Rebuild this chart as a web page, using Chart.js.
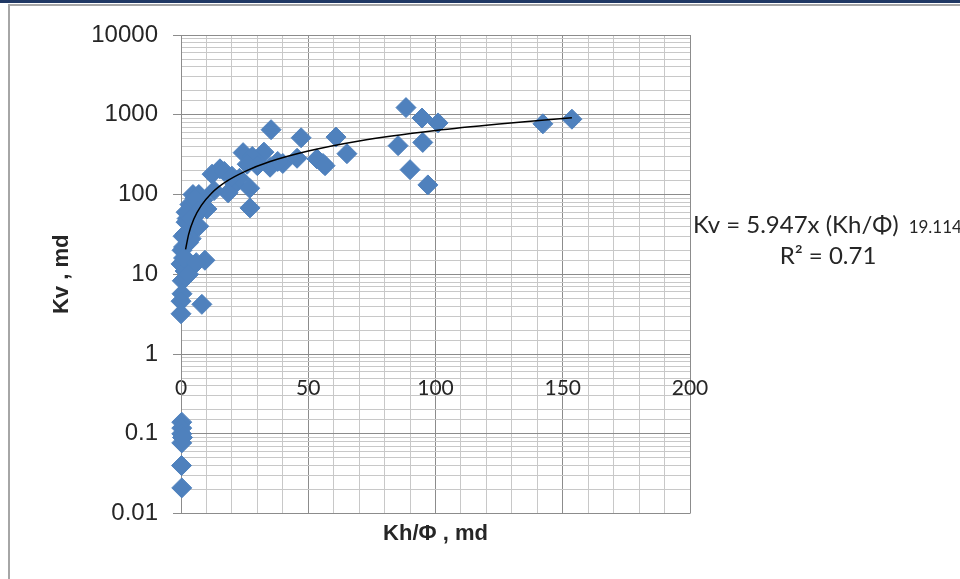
<!DOCTYPE html>
<html>
<head>
<meta charset="utf-8">
<script src="https://cdn.jsdelivr.net/npm/chart.js@4.4.1/dist/chart.umd.min.js"></script>
<style>
  html, body { margin: 0; padding: 0; background: #ffffff; }
  body { width: 960px; height: 579px; position: relative; overflow: hidden; }
  #topbar { position: absolute; left: 0; top: 0; width: 960px; height: 3px; background: #1f3864; }
  #frame { position: absolute; left: 8px; top: 4px; width: 980px; height: 600px;
           border-top: 2px solid #a6a6a6; border-left: 2px solid #a6a6a6; }
  #wrap { position: absolute; left: 0; top: 0; width: 960px; height: 579px; }
</style>
</head>
<body>
<div id="topbar"></div>
<div id="frame"></div>
<div id="wrap"><canvas id="c" width="960" height="579"></canvas></div>
<script>
// Scatter data: Kh/Φ (md) and Kv (md)
const khPhi = [
  153.6, 142.2, 101, 94.7, 88.4, 85.3, 95, 90, 97,
  35.4, 47.2, 60.9, 65.2, 55.8, 53.4, 56.6, 24.4, 32.6, 40, 45.6, 29.5, 35, 28, 38, 30, 26,
  15.3, 12.2, 17, 21.2, 27, 27.1, 18.5, 4.7, 8.6, 3.5, 6.3, 2.4, 10.2, 7, 23, 13, 20, 5.5,
  6.7, 1.6, 5.5, 0.4, 9.4, 0, 1.6, 0.5, 0.4, 8.2, 0, 0, 3, 2, 1, 4, 2.5, 5, 3, 1, 0.8, 6, 2, 4, 7,
  0.3, 0.3, 0.3, 0.3, 0.6, 0.2, 0.3
];
const kv = [
  880, 770, 790, 910, 1230, 410, 450, 205, 132,
  650, 515, 525, 325, 245, 280, 230, 335, 340, 245, 285, 265, 220, 300, 260, 230, 240,
  210, 180, 195, 135, 120, 68, 105, 100, 85, 75, 57, 50, 66, 100, 160, 112, 170, 90,
  62, 32, 38, 20, 15, 13.5, 11, 8.3, 5.7, 4.2, 4.6, 3.2, 25, 45, 22, 28, 15, 13, 10, 16, 30, 14, 60, 50, 40,
  0.14, 0.118, 0.1, 0.077, 0.09, 0.04, 0.021
];
// Power trend line
const trendX = [1.8, 3, 5, 8, 12, 18, 25, 35, 50, 70, 100, 125, 153.6];
const trendY = [20.5, 31.7, 49, 73, 104, 147, 194, 259, 351, 470, 635, 766, 915];
// Axis ticks and texts
const xTickLabels = [0, 50, 100, 150, 200];
const yTickLabels = [0.01, 0.1, 1, 10, 100, 1000, 10000];
const xTitle = 'Kh/Φ , md';
const yTitle = 'Kv , md';
const eqMain = 'Kv = 5.947x (Kh/Φ)';
const eqExp = '19.114';
const eqR2 = 'R² = 0.71';

const majorGrid = '#8c8c8c';
const minorGrid = '#c8c8c8';

const isDecade = v => Math.abs(Math.log10(v) - Math.round(Math.log10(v))) < 1e-9;

const eqPlugin = {
  id: 'eq',
  afterDraw(chart) {
    const ctx = chart.ctx;
    ctx.save();
    ctx.fillStyle = '#262626';
    ctx.textBaseline = 'alphabetic';
    ctx.textAlign = 'left';
    ctx.font = '24px Lato';
    ctx.fillText(eqMain, 693, 233);
    const w = ctx.measureText(eqMain).width;
    ctx.font = '17px Lato';
    ctx.fillText(eqExp, 693 + w + 10, 233);
    ctx.font = '24px Lato';
    ctx.textAlign = 'center';
    ctx.fillText(eqR2, 828, 264);
    ctx.restore();
  }
};

new Chart(document.getElementById('c'), {
  type: 'scatter',
  data: {
    datasets: [
      {
        label: 'Power trend',
        data: trendX.map((x, i) => ({ x: x, y: trendY[i] })),
        showLine: true,
        borderColor: '#000000',
        borderWidth: 1.5,
        pointRadius: 0,
        cubicInterpolationMode: 'monotone',
        fill: false
      },
      {
        label: 'Kv',
        data: khPhi.map((x, i) => ({ x: x, y: kv[i] })),
        pointStyle: 'rectRot',
        pointRadius: 10,
        pointHoverRadius: 10,
        backgroundColor: '#4f81bd',
        borderColor: '#4f81bd',
        borderWidth: 1,
        clip: false
      }
    ]
  },
  options: {
    responsive: false,
    animation: false,
    layout: { padding: { left: 0, top: 35, right: 270, bottom: 30 } },
    plugins: {
      legend: { display: false },
      tooltip: { enabled: false },
      title: {
        display: true,
        position: 'bottom',
        fullSize: false,
        text: xTitle,
        color: '#262626',
        font: { family: 'Liberation Sans', size: 22, weight: 'bold' },
        padding: { top: 7, bottom: 2 }
      }
    },
    scales: {
      x: {
        type: 'linear',
        position: { y: 1 },
        min: 0,
        max: 200,
        afterBuildTicks: s => {
          const t = [];
          for (let v = 0; v <= 200; v += 10) t.push({ value: v });
          s.ticks = t;
        },
        ticks: {
          autoSkip: false,
          maxRotation: 0,
          padding: 22,
          color: '#262626',
          font: { family: 'Lato', size: 21 },
          callback: v => (xTickLabels.includes(v) ? String(v) : '')
        },
        grid: {
          drawTicks: false,
          color: c => (c.tick && xTickLabels.includes(c.tick.value) ? majorGrid : minorGrid),
          lineWidth: 1
        },
        border: { color: majorGrid }
      },
      y: {
        type: 'logarithmic',
        position: 'left',
        min: 0.01,
        max: 10000,
        afterFit: s => { s.width = 181; },
        ticks: {
          autoSkip: false,
          padding: 15,
          color: '#262626',
          font: { family: 'Liberation Sans', size: 24 },
          callback: v => {
            const hit = yTickLabels.find(t => Math.abs(t - v) / t < 1e-6);
            return hit !== undefined ? String(hit) : '';
          }
        },
        grid: {
          color: c => (c.tick && isDecade(c.tick.value) ? majorGrid : minorGrid),
          tickColor: c => (c.tick && isDecade(c.tick.value) ? majorGrid : 'rgba(0,0,0,0)'),
          tickLength: 8,
          lineWidth: 1
        },
        border: { color: majorGrid },
        title: {
          display: true,
          text: yTitle,
          color: '#262626',
          font: { family: 'Liberation Sans', size: 22, weight: 'bold' },
          padding: { top: 49, bottom: 0 }
        }
      }
    }
  },
  plugins: [eqPlugin]
});
</script>
</body>
</html>
